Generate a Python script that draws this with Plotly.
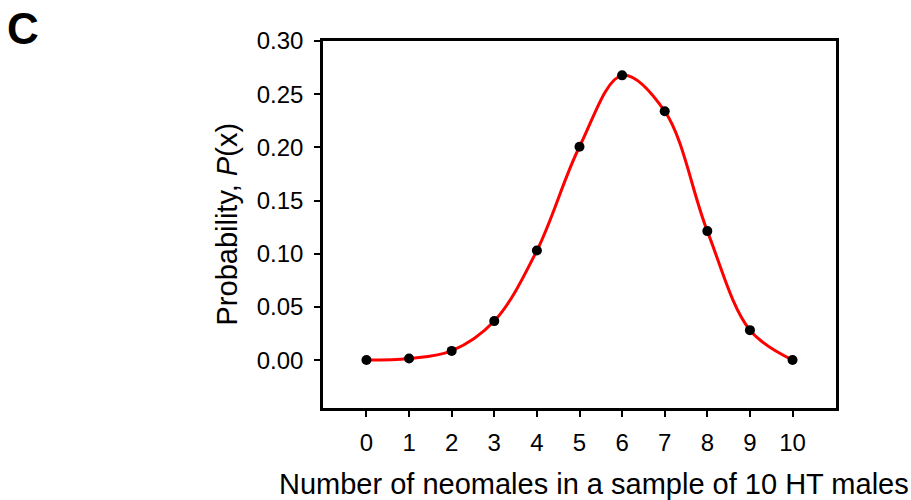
import plotly.graph_objects as go

neomales = [0, 1, 2, 3, 4, 5, 6, 7, 8, 9, 10]
probability = [0.0001, 0.0016, 0.0087, 0.0367, 0.103, 0.2006, 0.2677, 0.234, 0.1213, 0.0282, 0.0001]
y_ticks = [0.00, 0.05, 0.10, 0.15, 0.20, 0.25, 0.30]
y_tick_labels = ["0.00", "0.05", "0.10", "0.15", "0.20", "0.25", "0.30"]

FONT = "Liberation Sans, Arial, sans-serif"

fig = go.Figure()
fig.add_trace(go.Scatter(
    x=neomales, y=probability, mode="lines",
    line=dict(color="#ff0000", width=3, shape="spline", smoothing=1.0),
    hoverinfo="skip", showlegend=False,
))
fig.add_trace(go.Scatter(
    x=neomales, y=probability, mode="markers",
    marker=dict(color="black", size=10),
    showlegend=False,
))

W, H = 911, 500
ml, mt = 323, 41
mr = W - 836
mb = H - 408
pw, ph = W - ml - mr, H - mt - mb

fig.update_layout(
    width=W, height=H,
    margin=dict(l=ml, r=mr, t=mt, b=mb),
    paper_bgcolor="white", plot_bgcolor="white",
    font=dict(family=FONT, color="black", size=24),
    xaxis=dict(
        range=[-1.02, 11.02], tickmode="array", tickvals=neomales,
        ticktext=[str(v) for v in neomales],
        showgrid=False, zeroline=False,
        showline=True, linecolor="black", linewidth=2.5, mirror=True,
        ticks="outside", ticklen=6, tickwidth=2, tickcolor="black",
        tickfont=dict(size=24, family=FONT), ticklabelstandoff=5,
    ),
    yaxis=dict(
        range=[-0.045, 0.30], tickmode="array", tickvals=y_ticks,
        ticktext=y_tick_labels,
        showgrid=False, zeroline=False,
        showline=True, linecolor="black", linewidth=2.5, mirror=True,
        ticks="outside", ticklen=6, tickwidth=2, tickcolor="black",
        tickfont=dict(size=24, family=FONT), ticklabelstandoff=6,
    ),
    annotations=[
        dict(text="Number of neomales in a sample of 10 HT males",
             xref="paper", yref="paper",
             x=(594 - ml) / pw, y=-(484 - 408) / ph,
             xanchor="center", yanchor="middle", showarrow=False,
             font=dict(size=29, family=FONT)),
        dict(text="Probability, <i>P</i>(x)",
             xref="paper", yref="paper",
             x=-(323 - 226) / pw, y=0.5,
             xanchor="center", yanchor="middle", textangle=-90, showarrow=False,
             font=dict(size=29, family=FONT)),
        dict(text="<b>C</b>", xref="paper", yref="paper",
             x=-(323 - 5) / pw, y=1 + (41 - 29) / ph,
             xanchor="left", yanchor="middle", showarrow=False,
             font=dict(size=44, family=FONT)),
    ],
)

fig.write_html(
    "out.html",
    config={"displayModeBar": False},
    post_script="document.body.style.margin='0';document.body.style.overflow='hidden';",
)
